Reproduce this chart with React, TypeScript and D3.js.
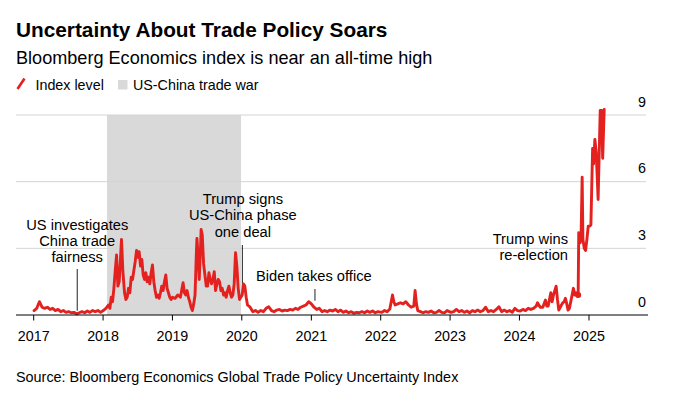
import React from 'react';
import * as d3 from 'd3';

// weekly-ish readings of the index ("MM-DD", level)
const pts2017: [string, number][] = [
  ['01-03', 0.2], ['01-17', 0.3], ['01-31', 0.6], ['02-14', 0.35], ['02-28', 0.3], ['03-14', 0.35],
  ['03-28', 0.25], ['04-11', 0.3], ['04-25', 0.2], ['05-09', 0.25], ['05-23', 0.15], ['06-06', 0.2],
  ['06-20', 0.12], ['07-04', 0.15], ['07-18', 0.1], ['08-01', 0.12], ['08-15', 0.05], ['08-29', 0.1],
  ['09-12', 0.15], ['09-26', 0.1], ['10-10', 0.18], ['10-24', 0.12], ['11-07', 0.2], ['11-21', 0.15],
  ['12-05', 0.2], ['12-19', 0.12],
];
const pts2018: [string, number][] = [
  ['01-02', 0.2], ['01-16', 0.3], ['01-30', 0.45], ['02-06', 0.3], ['02-13', 0.8], ['02-20', 0.6],
  ['02-27', 1.2], ['03-06', 2.0], ['03-13', 2.7], ['03-20', 1.3], ['03-27', 1.5], ['04-03', 2.6],
  ['04-08', 3.4], ['04-15', 2.0], ['04-24', 1.0], ['05-01', 0.7], ['05-08', 0.8], ['05-15', 1.2],
  ['05-22', 1.0], ['05-29', 1.7], ['06-05', 1.6], ['06-12', 2.0], ['06-19', 2.4], ['06-26', 2.9],
  ['07-03', 2.6], ['07-10', 2.85], ['07-17', 2.2], ['07-24', 2.5], ['07-31', 1.8], ['08-07', 1.6],
  ['08-14', 1.9], ['08-21', 1.5], ['08-28', 1.7], ['09-04', 1.4], ['09-11', 1.9], ['09-18', 2.25],
  ['09-25', 1.5], ['10-02', 1.1], ['10-09', 0.8], ['10-16', 0.9], ['10-23', 0.75], ['10-30', 1.0],
  ['11-06', 1.3], ['11-13', 1.1], ['11-20', 1.5], ['11-27', 1.8], ['12-04', 1.2], ['12-11', 1.0],
  ['12-18', 0.8], ['12-25', 0.7],
];
const pts2019: [string, number][] = [
  ['01-01', 0.8], ['01-15', 0.75], ['01-29', 0.9], ['02-12', 0.8], ['02-26', 1.45], ['03-05', 1.0],
  ['03-12', 0.9], ['03-19', 1.1], ['03-26', 0.8], ['04-02', 0.6], ['04-09', 0.35], ['04-16', 0.2],
  ['04-23', 0.5], ['04-30', 0.9], ['05-07', 2.8], ['05-10', 3.45], ['05-17', 2.5], ['05-22', 1.6],
  ['05-28', 2.8], ['06-01', 3.85], ['06-07', 3.6], ['06-14', 2.3], ['06-21', 1.8], ['06-28', 1.3],
  ['07-05', 1.3], ['07-12', 1.9], ['07-19', 1.6], ['07-26', 1.4], ['08-02', 1.6], ['08-09', 1.95],
  ['08-16', 1.1], ['08-23', 1.4], ['08-30', 1.6], ['09-06', 1.5], ['09-13', 1.1], ['09-20', 1.2],
  ['09-27', 0.9], ['10-04', 1.0], ['10-11', 0.8], ['10-18', 1.1], ['10-25', 1.3], ['11-01', 1.0],
  ['11-08', 0.8], ['11-15', 0.9], ['11-22', 1.4], ['11-29', 2.8], ['12-06', 2.2], ['12-13', 1.2],
  ['12-20', 0.7], ['12-27', 0.8],
];
const pts2020: [string, number][] = [
  ['01-03', 0.9], ['01-10', 1.4], ['01-17', 1.3], ['01-24', 0.8], ['01-31', 0.45], ['02-14', 0.35],
  ['02-28', 0.15], ['03-13', 0.2], ['03-27', 0.12], ['04-10', 0.2], ['04-24', 0.15], ['05-08', 0.3],
  ['05-22', 0.37], ['06-05', 0.2], ['06-19', 0.15], ['07-03', 0.22], ['07-17', 0.25], ['07-31', 0.18],
  ['08-14', 0.22], ['08-28', 0.2], ['09-11', 0.25], ['09-25', 0.22], ['10-09', 0.3], ['10-23', 0.25],
  ['11-06', 0.35], ['11-20', 0.4], ['12-04', 0.45], ['12-18', 0.6],
];
const pts2021: [string, number][] = [
  ['01-01', 0.5], ['01-15', 0.35], ['01-29', 0.25], ['02-12', 0.3], ['02-26', 0.15], ['03-12', 0.2],
  ['03-26', 0.15], ['04-09', 0.22], ['04-23', 0.18], ['05-07', 0.25], ['05-21', 0.15], ['06-04', 0.22],
  ['06-18', 0.12], ['07-02', 0.18], ['07-16', 0.1], ['07-30', 0.15], ['08-13', 0.08], ['08-27', 0.12],
  ['09-10', 0.1], ['09-24', 0.15], ['10-08', 0.1], ['10-22', 0.18], ['11-05', 0.12], ['11-19', 0.18],
  ['12-03', 0.1], ['12-17', 0.15],
];
const pts2022: [string, number][] = [
  ['01-07', 0.12], ['01-21', 0.2], ['02-04', 0.15], ['02-18', 0.27], ['03-04', 0.9], ['03-11', 0.6],
  ['03-18', 0.45], ['04-01', 0.5], ['04-15', 0.55], ['04-29', 0.5], ['05-13', 0.6], ['05-27', 0.45],
  ['06-10', 0.35], ['06-24', 0.4], ['07-01', 1.1], ['07-08', 0.5], ['07-15', 0.2], ['07-29', 0.15],
  ['08-12', 0.1], ['08-26', 0.15], ['09-09', 0.12], ['09-23', 0.18], ['10-07', 0.1], ['10-21', 0.12],
  ['11-04', 0.2], ['11-18', 0.12], ['12-02', 0.1], ['12-16', 0.2],
];
const pts2023: [string, number][] = [
  ['01-06', 0.12], ['01-20', 0.15], ['02-03', 0.25], ['02-17', 0.15], ['03-03', 0.2], ['03-17', 0.12],
  ['03-31', 0.18], ['04-14', 0.1], ['04-28', 0.2], ['05-12', 0.15], ['05-26', 0.22], ['06-09', 0.15],
  ['06-23', 0.2], ['07-07', 0.35], ['07-21', 0.15], ['08-04', 0.2], ['08-18', 0.15], ['09-01', 0.25],
  ['09-15', 0.37], ['09-29', 0.15], ['10-13', 0.22], ['10-27', 0.15], ['11-10', 0.2], ['11-24', 0.12],
  ['12-08', 0.3], ['12-22', 0.2],
];
const pts2024: [string, number][] = [
  ['01-05', 0.18], ['01-19', 0.25], ['02-02', 0.2], ['02-16', 0.3], ['03-01', 0.25], ['03-15', 0.3],
  ['03-29', 0.4], ['04-05', 0.55], ['04-19', 0.35], ['05-03', 0.35], ['05-17', 0.67], ['05-24', 0.4],
  ['05-31', 0.4], ['06-14', 1.0], ['06-21', 0.6], ['06-28', 0.9], ['07-05', 1.1], ['07-12', 1.3],
  ['07-19', 0.7], ['07-26', 0.22], ['08-09', 0.45], ['08-16', 0.55], ['08-23', 0.6], ['08-30', 0.75],
  ['09-06', 0.5], ['09-13', 0.22], ['09-20', 0.3], ['09-27', 0.6], ['10-04', 0.9], ['10-11', 1.2],
  ['10-18', 0.9], ['10-25', 1.0], ['11-01', 0.85], ['11-05', 0.95], ['11-08', 3.7], ['11-15', 3.25],
  ['11-20', 3.4], ['11-26', 6.2], ['11-30', 3.4], ['12-07', 3.0], ['12-14', 2.9], ['12-21', 3.4],
  ['12-28', 4.0],
];
const pts2025: [string, number][] = [
  ['01-04', 4.0], ['01-11', 4.05], ['01-20', 7.5], ['01-25', 6.8], ['02-01', 7.9], ['02-08', 7.3],
  ['02-18', 5.2], ['03-01', 9.2], ['03-08', 9.2], ['03-14', 7.05], ['03-22', 9.25],
];

const years = [2017, 2018, 2019, 2020, 2021, 2022, 2023, 2024, 2025];
const yTicks = [0, 3, 6, 9];
const tradeWar = ['2018-01-22', '2019-12-28'];
const electionDay = '2024-11-05';

const series = [pts2017, pts2018, pts2019, pts2020, pts2021, pts2022, pts2023, pts2024, pts2025]
  .flatMap((pts, i) => pts.map(([md, v]) => ({ date: new Date(`${years[i]}-${md}T00:00:00`), v })));

const annotations = [
  { date: '2017-08-18', text: ['US investigates', 'China trade', 'fairness'], anchor: 'middle', end: 0.1 },
  { date: '2020-01-04', text: ['Trump signs', 'US-China phase', 'one deal'], anchor: 'middle', end: 0.75 },
  { date: '2021-01-20', text: ['Biden takes office'], anchor: 'start', end: 0.55 },
  { date: electionDay, text: ['Trump wins', 're-election'], anchor: 'end', end: 0.95 },
];

const W = 680, H = 396;
const RED = '#e3211f';
const FONT = '"Liberation Sans", Arial, Helvetica, sans-serif';

export default function App() {
  const x = d3.scaleTime()
    .domain([new Date(2017, 0, 1), new Date(2025, 0, 1)])
    .range([33.7, 589]);
  const y = d3.scaleLinear().domain([0, 9]).range([315, 115]);

  const line = d3.line<{ date: Date; v: number }>()
    .x(d => x(d.date))
    .y(d => y(d.v))
    .curve(d3.curveLinear);

  const d = (s: string) => new Date(s + 'T00:00:00');
  const lh = 16.4;

  // text placement for each annotation: [text x, first baseline, line top]
  const annoPos = [
    { tx: x(d(annotations[0].date)), ty: 229.5, top: 269 },
    { tx: x(d(annotations[1].date)) + 0.5, ty: 204, top: 245 },
    { tx: 256, ty: 281, top: 289 },
    { tx: 568, ty: 244, top: 268 },
  ];

  return (
    <svg width={W} height={H} style={{ position: 'absolute', left: 0, top: 0, background: '#fff' }}
      fontFamily={FONT}>
      <text x={16} y={37} fontSize={20.8} fontWeight="bold" fill="#000">Uncertainty About Trade Policy Soars</text>
      <text x={16} y={64} fontSize={18.1} fill="#000">Bloomberg Economics index is near an all-time high</text>

      {/* legend */}
      <line x1={17.5} y1={89} x2={24.5} y2={78.5} stroke={RED} strokeWidth={2.6} />
      <text x={35.5} y={89.5} fontSize={14.3} fill="#000">Index level</text>
      <rect x={118} y={80} width={9.5} height={9.5} fill="#d9d9d9" />
      <text x={133} y={89.5} fontSize={14.3} fill="#000">US-China trade war</text>

      {/* trade war band */}
      <rect x={x(d(tradeWar[0]))} y={y(9)} width={x(d(tradeWar[1])) - x(d(tradeWar[0]))}
        height={y(0) - y(9)} fill="#d9d9d9" />

      {/* grid + y labels */}
      {yTicks.map(t => (
        <g key={t}>
          {t > 0 && <line x1={16} x2={646} y1={y(t)} y2={y(t)} stroke="#d4d4d4" strokeWidth={1} />}
          <text x={646} y={y(t) - 8.5} fontSize={14.3} textAnchor="end" fill="#000">{t}</text>
        </g>
      ))}

      {/* annotation leader lines */}
      {annotations.map((a, i) => (
        <line key={a.date} x1={x(d(a.date))} x2={x(d(a.date))} y1={annoPos[i].top} y2={y(a.end) - 2}
          stroke="#222" strokeWidth={1} />
      ))}

      <path d={line(series) || ''} fill="none" stroke={RED} strokeWidth={2.9}
        strokeLinejoin="round" strokeLinecap="round" />
      <circle cx={x(d(electionDay))} cy={y(0.9)} r={3} fill={RED} />

      {/* x axis */}
      <line x1={16} x2={648} y1={y(0)} y2={y(0)} stroke="#000" strokeWidth={1} />
      {years.map(yr => {
        const px = x(new Date(yr, 0, 1));
        return (
          <g key={yr}>
            <line x1={px} x2={px} y1={y(0)} y2={y(0) + 5.5} stroke="#000" strokeWidth={1} />
            <text x={px} y={341} fontSize={14.3} textAnchor="middle" fill="#000">{yr}</text>
          </g>
        );
      })}

      {/* annotation texts */}
      {annotations.map((a, i) => (
        <text key={a.date + 't'} x={annoPos[i].tx} y={annoPos[i].ty} fontSize={14.7}
          textAnchor={a.anchor} fill="#000">
          {a.text.map((s, j) => (
            <tspan key={j} x={annoPos[i].tx} dy={j === 0 ? 0 : lh}>{s}</tspan>
          ))}
        </text>
      ))}

      <text x={16} y={382} fontSize={14.4} fill="#000">
        Source: Bloomberg Economics Global Trade Policy Uncertainty Index
      </text>
    </svg>
  );
}
